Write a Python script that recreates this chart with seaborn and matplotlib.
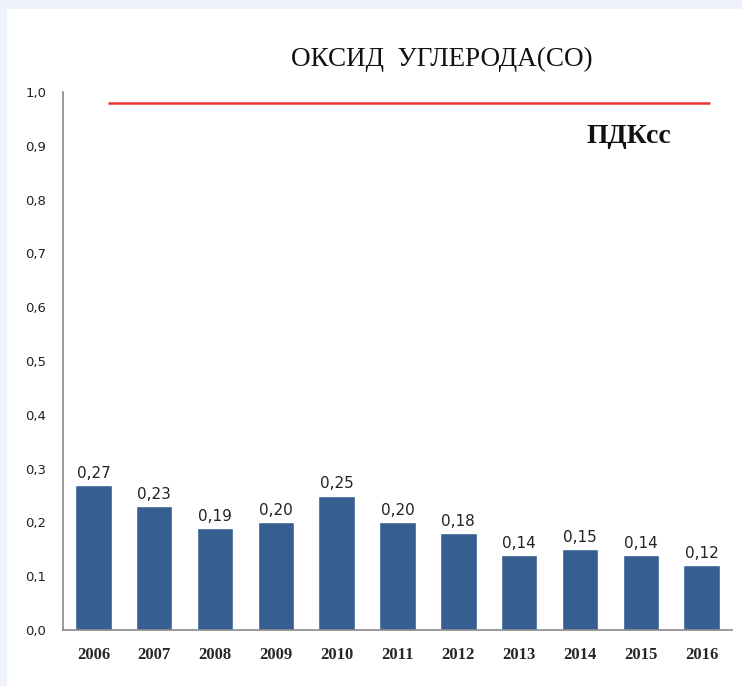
import pandas as pd
import matplotlib
matplotlib.use("Agg")
import matplotlib.pyplot as plt
import seaborn as sns
from matplotlib.patches import Rectangle

# data
years = ["2006", "2007", "2008", "2009", "2010", "2011", "2012", "2013", "2014", "2015", "2016"]
co_values = [0.27, 0.23, 0.19, 0.20, 0.25, 0.20, 0.18, 0.14, 0.15, 0.14, 0.12]
pdk_value = 0.98
y_ticks = [0.0, 0.1, 0.2, 0.3, 0.4, 0.5, 0.6, 0.7, 0.8, 0.9, 1.0]
y_tick_labels = ["0,0", "0,1", "0,2", "0,3", "0,4", "0,5", "0,6", "0,7", "0,8", "0,9", "1,0"]
title = "ОКСИД  УГЛЕРОДА(СО)"
pdk_label = "ПДКсс"

df = pd.DataFrame({"year": years, "co": co_values})

sns.set_style("white")
plt.rcParams["font.family"] = ["DejaVu Sans"]

fig = plt.figure(figsize=(7.42, 6.86), dpi=100)
fig.patch.set_facecolor("#eef2f9")
# white panel inside the light blue frame
fig.patches.append(Rectangle((7 / 742, 0), 1, 1 - 9 / 686, transform=fig.transFigure,
                             facecolor="white", edgecolor="none", zorder=-10))

ax = fig.add_axes([0.0849, 0.0816, 0.9016, 0.7843])
ax.set_facecolor("white")
ax.set_zorder(1)

sns.barplot(data=df, x="year", y="co", color="#365e90", width=0.6, saturation=1, ax=ax)

labels = [f"{v:.2f}".replace(".", ",") for v in co_values]
ax.bar_label(ax.containers[0], labels=labels, padding=3, fontsize=11, color="#222222")

# PDK line
ax.hlines(pdk_value, 0.24, 10.14, color="#ee3333", linewidth=1.8)
ax.text(8.8, 0.918, pdk_label, fontsize=20, fontweight="bold", family="Liberation Serif",
        ha="center", va="center", color="#111111")

ax.set_xlim(-0.5, 10.5)
ax.set_ylim(0, 1.0)
ax.set_yticks(y_ticks)
ax.set_yticklabels(y_tick_labels)
ax.tick_params(axis="y", length=0, pad=12, labelsize=9.5, labelcolor="#222222")
ax.tick_params(axis="x", length=0, pad=12, labelsize=12)
for lbl in ax.get_xticklabels():
    lbl.set_family("Liberation Serif")
    lbl.set_fontweight("bold")
ax.set_xlabel("")
ax.set_ylabel("")

sns.despine(ax=ax)
for side in ["left", "bottom"]:
    ax.spines[side].set_color("#8a8a8a")
    ax.spines[side].set_linewidth(1.2)

fig.text(0.596, 1 - 59 / 686, title, fontsize=19.5, family="Liberation Serif",
         ha="center", va="center", color="#111111")

fig.savefig("out.png", dpi=100, facecolor=fig.get_facecolor())
